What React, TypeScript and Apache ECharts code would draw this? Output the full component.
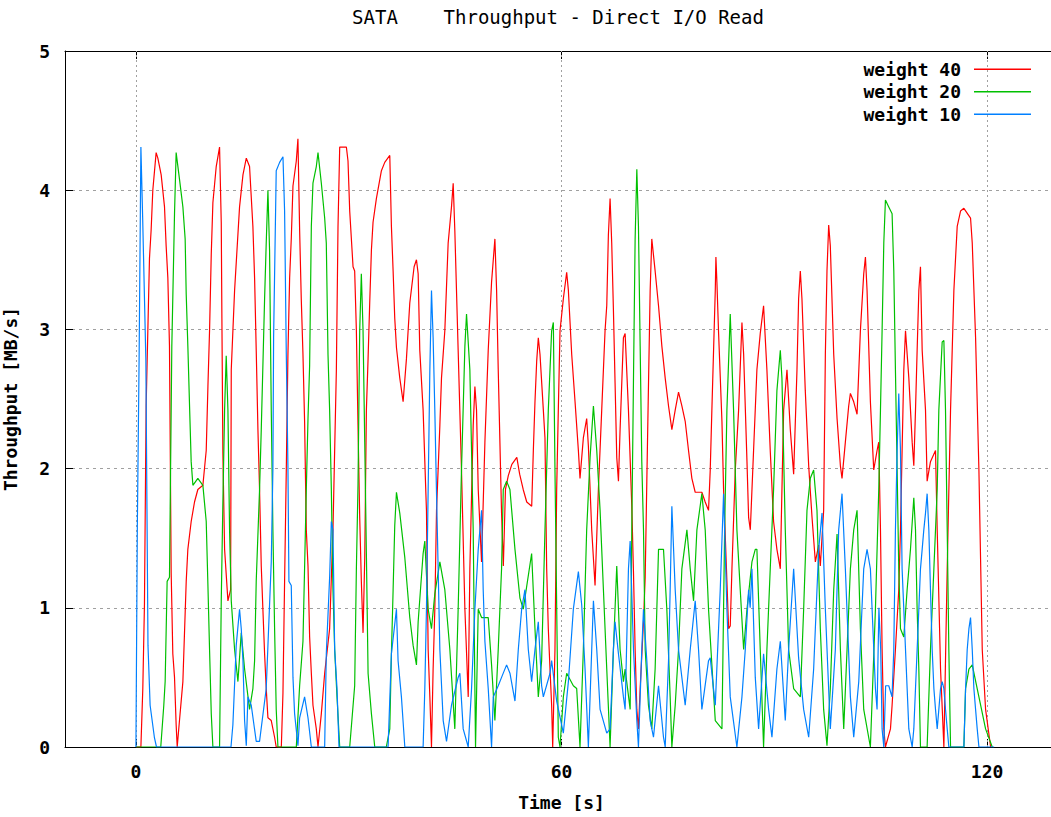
import React, { useEffect, useRef } from "react";
import * as echarts from "echarts";

const chartTitle = "SATA    Throughput - Direct I/O Read";
const xName = "Time [s]";
const yName = "Throughput [MB/s]";
const seriesNames = ["weight 40", "weight 20", "weight 10"];
const seriesColors = ["#ff0000", "#00c000", "#0080ff"];
const xTicks = [0, 60, 120];
const yTicks = [0, 1, 2, 3, 4, 5];

const red40 = [[0,0],[0.7,0],[0.97,0.42],[1.2,1.02],[1.44,2.45],[1.67,2.97],[1.91,3.51],[2.14,3.71],[2.38,4.0],[2.85,4.27],[3.09,4.23],[3.56,4.11],[4.03,3.88],[4.26,3.6],[4.5,3.37],[4.73,2.88],[4.97,1.25],[5.2,0.67],[5.44,0.5],[5.67,0.16],[5.82,0],[6.14,0.19],[6.62,0.47],[7.09,1.19],[7.32,1.42],[7.79,1.62],[8.26,1.76],[8.73,1.85],[9.44,1.88],[9.91,2.13],[10.15,2.59],[10.38,2.99],[10.62,3.54],[10.85,3.91],[11.32,4.17],[11.79,4.31],[12.03,3.77],[12.12,3.08],[12.26,2.11],[12.5,1.42],[12.97,1.05],[13.35,1.13],[13.44,2.71],[13.91,3.28],[14.61,3.88],[15.09,4.11],[15.56,4.23],[16.02,4.17],[16.49,3.74],[16.73,3.37],[16.96,2.85],[17.2,2.28],[17.43,1.85],[17.67,1.3],[17.9,0.99],[18.14,0.67],[18.37,0.42],[18.61,0.21],[19.08,0.19],[19.55,0.07],[19.78,0],[20.5,0],[20.73,0.39],[20.96,1.19],[21.2,1.99],[21.43,2.82],[21.67,3.37],[21.9,3.65],[22.14,4.03],[22.61,4.21],[22.84,4.37],[23.08,3.71],[23.31,3.22],[23.55,2.82],[23.78,2.34],[24.02,1.56],[24.26,1.3],[24.49,0.79],[24.73,0.53],[24.96,0.3],[25.43,0.13],[25.67,0],[26.14,0.24],[26.61,0.53],[27.31,0.85],[27.78,1.56],[28.26,2.71],[28.49,3.74],[28.73,4.31],[29.67,4.31],[29.9,4.21],[30.14,3.85],[30.61,3.45],[30.84,3.42],[31.08,2.99],[31.31,2.31],[31.55,1.65],[31.78,1.19],[32.02,0.82],[32.26,1.36],[32.49,2.42],[32.73,2.79],[32.96,3.19],[33.2,3.57],[33.43,3.77],[33.9,3.94],[34.61,4.14],[35.08,4.2],[35.79,4.25],[36.02,3.74],[36.26,3.42],[36.49,3.08],[36.73,2.87],[37.2,2.65],[37.67,2.48],[38.14,2.79],[38.61,3.19],[39.22,3.45],[39.55,3.5],[39.79,3.4],[40.02,2.85],[40.49,2.42],[40.73,2.05],[40.96,1.7],[41.2,0.7],[41.44,0.36],[41.67,0],[41.9,0.56],[42.14,0.99],[42.38,1.7],[42.85,2.31],[43.08,2.65],[43.55,2.99],[44.02,3.62],[44.49,3.88],[44.73,4.05],[44.96,3.71],[45.43,2.85],[45.9,1.99],[46.38,0.99],[46.85,0.36],[47.08,1.28],[47.55,2.31],[47.79,2.59],[48.02,2.42],[48.26,1.85],[48.73,1.33],[49.2,2.19],[49.67,2.85],[50.14,3.34],[50.61,3.65],[50.85,3.28],[51.08,2.71],[51.55,1.68],[51.8,1.3],[52.1,1.85],[52.5,1.95],[53.0,2.03],[53.7,2.08],[54.1,1.96],[54.6,1.85],[55.1,1.76],[55.8,1.73],[56.03,2.13],[56.26,2.48],[56.5,2.77],[56.73,2.94],[56.97,2.82],[57.44,2.42],[57.67,2.22],[57.91,1.28],[58.14,0.85],[58.38,0.56],[58.61,0.3],[58.76,0],[59.08,0.7],[59.32,1.85],[59.55,2.42],[59.79,2.99],[60.26,3.22],[60.73,3.41],[60.97,3.28],[61.44,2.82],[61.91,2.48],[62.38,2.13],[62.61,1.93],[63.08,2.22],[63.55,2.36],[63.79,2.16],[64.26,1.56],[64.73,1.16],[65.2,1.85],[65.67,2.42],[66.14,2.99],[66.38,3.17],[66.61,3.68],[66.85,3.94],[67.08,3.62],[67.32,3.14],[67.55,2.62],[67.79,2.08],[68.03,1.91],[68.26,2.28],[68.73,2.94],[68.97,2.97],[69.44,2.42],[69.91,1.73],[70.15,1.25],[70.38,0.7],[70.62,0.27],[70.85,0.13],[71.09,0.42],[71.56,0.9],[71.8,1.22],[72.03,1.91],[72.26,2.59],[72.5,3.28],[72.73,3.65],[73.2,3.42],[73.68,3.17],[74.15,2.88],[74.62,2.65],[75.09,2.45],[75.56,2.28],[76.03,2.42],[76.5,2.55],[76.97,2.45],[77.44,2.34],[77.91,2.13],[78.38,1.93],[78.85,1.83],[79.79,1.83],[80.26,1.76],[80.73,1.7],[80.97,1.99],[81.2,2.42],[81.44,2.85],[81.68,3.28],[81.77,3.52],[81.91,3.34],[82.15,2.97],[82.62,2.34],[82.85,1.85],[83.32,1.19],[83.56,0.85],[83.79,0.87],[84.03,1.28],[84.5,1.99],[84.97,2.42],[85.44,3.05],[85.68,2.82],[86.15,2.05],[86.38,1.65],[86.62,1.56],[87.08,2.13],[87.55,2.71],[88.02,2.97],[88.49,3.17],[88.96,2.71],[89.43,2.13],[89.9,1.62],[90.37,1.42],[90.85,1.28],[91.08,1.85],[91.32,2.42],[91.79,2.71],[92.26,2.28],[92.73,1.96],[93.2,2.71],[93.43,3.22],[93.67,3.42],[93.9,3.22],[94.37,2.56],[94.85,2.02],[95.32,1.65],[95.79,1.33],[96.26,1.45],[96.49,1.3],[96.96,1.7],[97.2,2.82],[97.43,3.42],[97.67,3.75],[97.9,3.6],[98.38,2.82],[98.85,2.36],[99.32,2.02],[99.55,1.93],[100.02,2.19],[100.49,2.45],[100.73,2.54],[101.2,2.48],[101.67,2.39],[102.14,2.99],[102.61,3.4],[102.85,3.52],[103.08,3.28],[103.55,2.48],[104.02,1.99],[104.49,2.13],[104.73,2.19],[104.97,1.56],[105.2,0.7],[105.44,0.13],[105.67,0],[106.38,0.13],[106.61,0.3],[107.08,0.7],[107.55,1.13],[107.79,1.56],[108.02,2.13],[108.26,2.71],[108.5,2.99],[108.97,2.65],[109.44,2.19],[109.67,2.02],[109.91,2.42],[110.14,2.85],[110.38,3.28],[110.61,3.45],[110.85,2.85],[111.32,2.42],[111.55,1.91],[112.02,2.05],[112.73,2.13],[112.97,1.56],[113.44,0.56],[113.91,0],[114.38,1.28],[114.85,2.42],[115.32,3.28],[115.79,3.74],[116.26,3.85],[116.73,3.87],[117.67,3.8],[117.91,3.62],[118.38,2.94],[118.85,1.99],[119.32,0.7],[119.79,0.27],[120.5,0]];

const green20 = [[0,0],[3.5,0],[3.93,0.3],[4.12,0.47],[4.4,1.19],[4.73,1.22],[5.06,2.88],[5.44,3.83],[5.67,4.27],[6.14,4.08],[6.62,3.88],[6.94,3.65],[7.09,3.25],[7.32,2.88],[7.56,2.45],[7.79,2.05],[8.03,1.88],[8.73,1.93],[9.44,1.88],[9.91,1.62],[10.15,1.16],[10.38,0.7],[10.62,0.24],[10.85,0],[11.79,0],[12.03,1.05],[12.26,1.76],[12.5,2.42],[12.73,2.81],[12.97,2.42],[13.2,1.56],[13.44,1.05],[13.91,0.7],[14.38,0.47],[14.85,0.82],[15.32,0.56],[16.02,0.27],[16.49,0.42],[16.73,0.62],[16.96,1.19],[17.43,1.85],[17.67,2.28],[17.9,2.74],[18.14,3.22],[18.37,3.62],[18.61,4.0],[18.84,3.57],[19.08,2.42],[19.31,1.56],[19.55,0.85],[19.78,0.27],[20.02,0],[22.61,0],[23.08,0.44],[23.55,0.76],[23.78,1.29],[24.02,1.85],[24.26,2.36],[24.49,2.74],[24.73,3.74],[24.96,4.05],[25.43,4.17],[25.67,4.27],[26.14,4.05],[26.61,3.8],[26.84,3.62],[27.08,2.82],[27.31,2.42],[27.55,1.85],[27.78,1.13],[28.02,0.7],[28.35,0.36],[28.73,0],[30.14,0],[30.84,0.44],[31.08,1.28],[31.31,1.88],[31.55,2.99],[31.78,3.4],[32.02,2.99],[32.26,2.19],[32.49,1.39],[32.73,0.53],[33.2,0.24],[33.67,0],[35.3,0],[35.79,0.13],[36.02,0.67],[36.26,1.13],[36.49,1.59],[36.73,1.83],[37.2,1.68],[37.91,1.36],[38.61,0.93],[39.08,0.73],[39.55,0.59],[39.79,0.9],[40.49,1.39],[40.73,1.48],[41.2,0.99],[41.67,0.85],[42.14,1.1],[42.85,1.33],[43.55,1.13],[44.26,0.7],[44.96,0.13],[45.43,0.99],[45.9,1.99],[46.38,2.88],[46.61,3.11],[47.08,2.71],[47.55,1.56],[47.88,0],[48.26,0.99],[48.73,0.93],[49.67,0.93],[50.14,0.59],[50.61,0.19],[51.08,0.7],[51.55,1.28],[51.79,1.85],[52.26,1.91],[52.73,1.85],[53.44,1.42],[54.14,1.07],[54.61,0.99],[55.79,1.39],[56.26,0.85],[56.73,0.36],[57.2,0.62],[57.67,1.56],[58.14,2.42],[58.61,2.99],[58.85,3.05],[59.08,1.99],[59.55,0.07],[59.79,0],[60.26,0.36],[60.73,0.53],[61.67,0.44],[62.14,0.42],[62.61,0],[63.08,0.7],[63.55,1.56],[64.03,2.08],[64.5,2.45],[64.97,2.13],[65.44,1.7],[65.91,1.13],[66.38,0.56],[66.85,0],[67.32,0.7],[67.79,1.3],[68.26,0.7],[68.73,0.47],[68.97,0.56],[69.68,0.27],[69.91,1.56],[70.15,2.65],[70.38,3.65],[70.62,4.15],[70.85,3.74],[71.09,2.88],[71.32,2.05],[71.56,1.56],[71.8,0.7],[72.26,0.3],[72.73,0.13],[73.2,0.56],[73.68,1.42],[74.38,1.42],[74.85,0.99],[75.32,0.36],[75.56,0],[76.03,0.3],[76.5,0.7],[76.97,1.28],[77.68,1.56],[78.15,1.28],[78.62,1.05],[79.09,1.56],[79.79,1.82],[80.26,1.56],[80.73,0.99],[81.2,0.59],[81.68,0.19],[82.62,0.13],[83.0,1.56],[83.32,2.42],[83.79,3.11],[84.26,2.42],[84.73,1.56],[85.2,1.13],[85.68,0.7],[86.15,0.99],[86.85,1.33],[87.32,1.42],[87.55,1.42],[88.02,0.7],[88.49,0],[88.96,0.7],[89.43,1.28],[89.9,1.85],[90.37,2.56],[90.85,2.85],[91.08,2.65],[91.55,1.56],[92.02,0.7],[92.73,0.42],[93.67,0.36],[94.14,0.99],[94.61,1.7],[95.08,1.93],[95.55,1.99],[96.02,1.7],[96.49,0.85],[96.96,0.27],[97.43,0.01],[97.9,0.42],[98.38,1.13],[98.85,1.53],[99.32,0.7],[99.79,0.13],[100.26,0.7],[100.73,1.28],[101.2,1.56],[101.67,1.7],[102.14,0.85],[102.61,0.27],[103.55,0],[104.26,0.99],[104.73,1.85],[104.97,2.42],[105.2,2.99],[105.44,3.62],[105.67,3.93],[106.14,3.88],[106.61,3.83],[106.85,3.42],[107.08,2.71],[107.32,1.99],[107.55,1.28],[107.79,0.85],[108.26,0.79],[108.73,1.13],[109.2,1.42],[109.67,1.79],[109.91,1.56],[110.14,0.99],[110.38,0.56],[110.61,0],[111.55,0],[112.02,0.7],[112.5,1.28],[112.97,1.85],[113.2,2.42],[113.67,2.91],[113.91,2.92],[114.14,2.42],[114.38,1.56],[114.61,0.7],[114.85,0],[116.73,0],[116.97,0.42],[117.44,0.56],[117.91,0.59],[118.85,0.36],[119.79,0.13],[120.73,0]];

const blue10 = [[0,0],[0.2,1.6],[0.45,2.8],[0.7,4.31],[0.95,3.8],[1.4,2.78],[1.7,0.73],[2.0,0.3],[2.6,0.07],[2.9,0],[13.4,0],[13.67,0.16],[14.14,0.73],[14.61,0.99],[14.85,0.85],[15.09,0.62],[15.32,0.19],[15.56,0.01],[15.79,0.36],[16.26,0.3],[16.96,0.04],[17.43,0.04],[18.37,0.42],[19.08,1.33],[19.31,1.99],[19.41,2.94],[19.78,4.14],[20.26,4.2],[20.73,4.24],[20.96,3.85],[21.2,2.82],[21.43,2.02],[21.57,1.19],[21.9,1.16],[22.14,0.5],[22.37,0.24],[22.84,0.01],[23.08,0.21],[23.78,0.36],[24.26,0.21],[24.73,0],[26.61,0],[26.84,0.67],[27.31,1.22],[27.55,1.62],[27.78,1.56],[28.02,0.7],[28.35,0.42],[28.63,0],[35.55,0],[36.02,0.67],[36.73,0.99],[36.96,0.62],[37.43,0.36],[37.91,0],[40.49,0],[40.73,0.42],[40.96,0.99],[41.2,1.85],[41.44,2.71],[41.67,3.28],[41.9,2.94],[42.14,2.42],[42.38,1.82],[42.61,1.28],[42.85,0.7],[43.32,0.19],[43.79,0.04],[44.49,0.3],[45.43,0.5],[45.67,0.53],[46.14,0.13],[46.85,0],[47.32,0.42],[47.79,0.99],[48.26,1.42],[48.73,1.7],[48.96,1.13],[49.2,0.76],[49.67,0.42],[50.14,0],[50.38,0.36],[51.08,0.44],[51.55,0.5],[52.26,0.59],[52.73,0.53],[53.44,0.33],[53.91,0.7],[54.38,0.99],[54.85,1.13],[55.32,0.7],[55.79,0.47],[56.26,0.7],[56.73,0.9],[57.2,0.44],[57.44,0.36],[58.38,0.53],[58.61,0.62],[59.32,0.33],[60.26,0.1],[60.97,0.47],[61.67,0.99],[62.38,1.26],[62.85,1.02],[63.32,0.56],[63.79,0],[64.26,0.7],[64.5,1.05],[64.97,0.7],[65.44,0.27],[66.38,0.1],[66.85,0.13],[67.32,0.7],[67.55,0.9],[68.03,0.67],[68.73,0.36],[68.97,0.27],[69.44,1.28],[69.68,1.48],[70.15,0.7],[70.62,0.19],[70.85,0],[71.32,0.7],[71.56,0.99],[72.03,0.62],[72.5,0.19],[72.97,0.07],[73.68,0.44],[74.38,0.07],[74.62,0],[75.09,0.62],[75.32,1.13],[75.56,1.73],[76.03,1.13],[76.5,0.7],[77.44,0.3],[78.15,0.7],[78.85,1.05],[79.32,0.7],[79.79,0.27],[80.73,0.62],[80.97,0.64],[81.68,0.3],[82.38,1.13],[82.85,1.82],[83.32,0.99],[83.79,0.36],[84.73,0],[85.44,0.36],[85.91,0.7],[86.38,1.13],[86.6,1.0],[86.85,1.28],[87.32,0.5],[87.79,0.13],[88.49,0.67],[89.2,0.27],[89.67,0.07],[90.37,0.56],[90.85,0.76],[91.55,0.19],[92.02,0.7],[92.73,1.28],[93.43,0.64],[94.14,0.27],[94.85,0.07],[95.55,0.56],[96.26,1.42],[96.73,1.68],[97.2,0.99],[97.9,0.13],[98.61,0.7],[99.08,1.56],[99.55,1.82],[100.02,1.28],[100.73,0.36],[101.2,0.07],[101.91,0.47],[102.61,1.28],[103.08,1.42],[103.55,1.28],[104.26,0.42],[104.49,0.27],[104.75,1.0],[105.0,0.7],[105.2,0.13],[105.44,0],[105.7,0.44],[106.14,0.44],[106.6,0.36],[106.85,0.7],[107.08,1.56],[107.32,2.13],[107.55,2.54],[107.79,2.13],[108.02,1.28],[108.26,0.99],[108.5,0.7],[108.73,0.42],[108.97,0.13],[109.44,0],[109.67,0.13],[109.91,0.42],[110.14,0.7],[110.38,0.99],[110.61,1.28],[110.85,1.42],[111.08,1.56],[111.32,1.68],[111.55,1.82],[111.79,1.56],[112.02,1.13],[112.26,0.7],[112.5,0.42],[112.73,0.27],[112.97,0.13],[113.2,0.27],[113.44,0.42],[113.67,0.47],[113.91,0.42],[114.14,0.27],[114.38,0.13],[114.61,0],[116.73,0],[116.97,0.42],[117.2,0.7],[117.44,0.85],[117.67,0.93],[117.91,0.7],[118.14,0.42],[118.38,0.27],[118.61,0.13],[118.85,0],[121,0]];

const seriesData = [red40, green20, blue10];
const MONO = '"DejaVu Sans Mono", "Liberation Mono", monospace';

export default function App() {
  const ref = useRef<HTMLDivElement>(null);
  useEffect(() => {
    if (!ref.current) return;
    const chart = echarts.init(ref.current, null, { renderer: "svg" });
    const gridLine = { color: "#a0a0a0", width: 1 };
    const boldText = { fontFamily: MONO, fontWeight: "bold", fontSize: 18, color: "#000" };
    chart.setOption({
      animation: false,
      backgroundColor: "#ffffff",
      graphic: [
        {
          type: "text",
          x: 558,
          y: 7,
          style: {
            text: chartTitle,
            textAlign: "center",
            fill: "#000",
            font: `19px ${MONO}`,
          },
        },
      ],
      legend: {
        orient: "vertical",
        right: 15,
        top: 53,
        align: "right",
        icon: "rect",
        itemWidth: 57,
        itemHeight: 1.5,
        itemGap: 0,
        selectedMode: false,
        data: seriesNames,
        textStyle: {
          ...boldText,
          lineHeight: 22.5,
          padding: [0, 8, 0, 0],
        },
      },
      grid: { left: 65, right: -7, top: 51, bottom: 70, containLabel: false, outerBoundsMode: "none" },
      xAxis: [
        {
          type: "value",
          min: -10,
          max: 130,
          position: "bottom",
          name: xName,
          nameLocation: "middle",
          nameGap: 46,
          nameTextStyle: boldText,
          axisLine: { show: true, onZero: false, lineStyle: { color: "#000", width: 1 } },
          axisTick: { show: true, inside: true, length: 8, customValues: xTicks, lineStyle: { color: "#000" } },
          axisLabel: { customValues: xTicks, margin: 15, ...boldText },
          splitLine: { show: false },
        },
        {
          type: "value",
          min: -10,
          max: 130,
          position: "top",
          axisLine: { show: true, onZero: false, lineStyle: { color: "#000", width: 1 } },
          axisTick: { show: true, inside: true, length: 8, customValues: xTicks, lineStyle: { color: "#000" } },
          axisLabel: { show: false },
          splitLine: { show: false },
        },
      ],
      yAxis: {
        type: "value",
        min: yTicks[0],
        max: yTicks[yTicks.length - 1],
        interval: 1,
        name: yName,
        nameLocation: "middle",
        nameGap: 46,
        nameTextStyle: boldText,
        axisLine: { show: true, onZero: false, lineStyle: { color: "#000", width: 1 } },
        axisTick: { show: true, inside: true, length: 8, lineStyle: { color: "#000" } },
        axisLabel: { margin: 15, ...boldText },
        splitLine: { show: true, lineStyle: { ...gridLine, type: [3, 4] } },
      },
      series: seriesNames.map((name, i) => ({
        name,
        type: "line",
        xAxisIndex: 0,
        data: seriesData[i],
        symbol: "none",
        showSymbol: false,
        color: seriesColors[i],
        lineStyle: { color: seriesColors[i], width: 1.2 },
        z: 2 + i,
        markLine:
          i === 0
            ? {
                silent: true,
                symbol: "none",
                z: 1,
                label: { show: false },
                lineStyle: { ...gridLine, type: [2, 3] },
                data: xTicks.map((v) => ({ xAxis: v })),
              }
            : undefined,
      })),
    });
    return () => chart.dispose();
  }, []);
  return (
    <div
      ref={ref}
      style={{ position: "absolute", left: 0, top: 0, width: 1051, height: 817, background: "#fff" }}
    />
  );
}
